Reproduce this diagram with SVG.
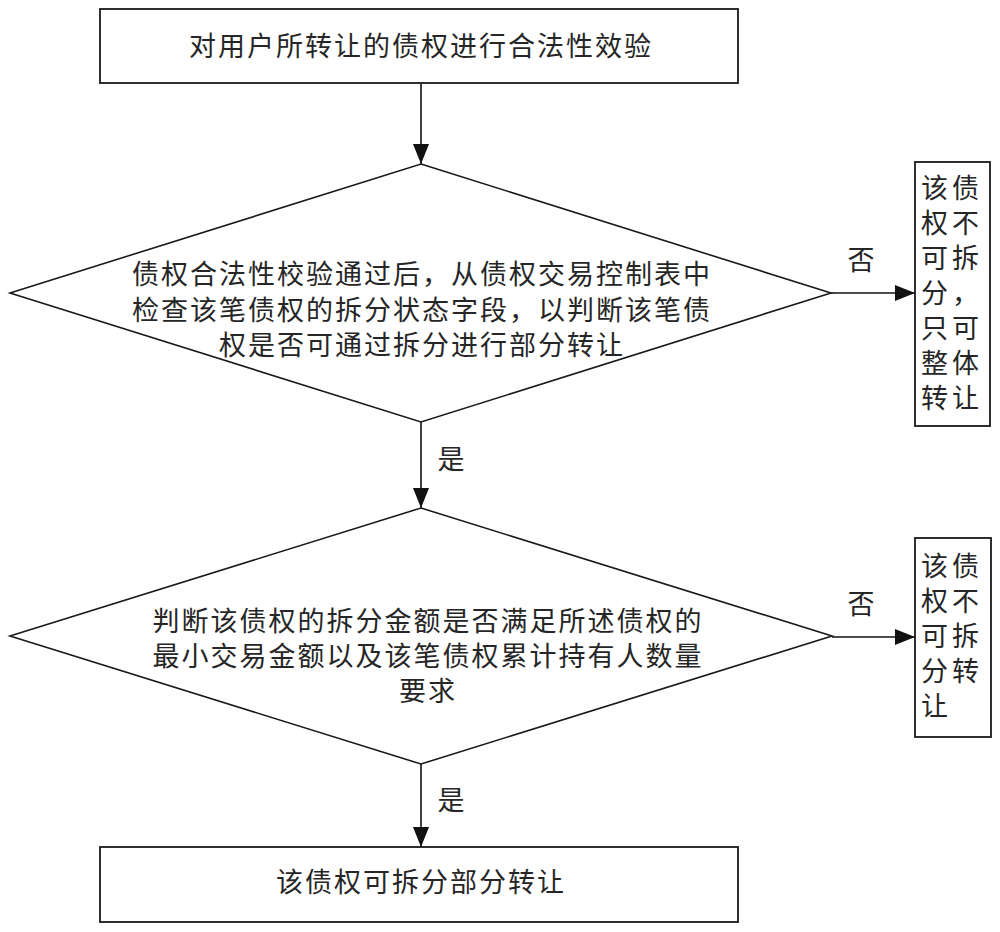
<svg xmlns="http://www.w3.org/2000/svg" width="1000" height="932" viewBox="0 0 1000 932">
<style>
.box{fill:#fff;stroke:#1a1a1a;stroke-width:1.8}
.dia{fill:#fff;stroke:#1a1a1a;stroke-width:1.6}
.t{font-family:"Liberation Sans","Noto Sans CJK SC",sans-serif;font-size:27px;fill:#262626;letter-spacing:2px;text-anchor:middle;dominant-baseline:central}
.v{font-family:"Liberation Sans","Noto Sans CJK SC",sans-serif;font-size:27px;fill:#262626;letter-spacing:4px;dominant-baseline:central}
.c{fill:none;stroke:#111;stroke-width:1.6}
</style>
<defs>
<marker id="arr" markerUnits="userSpaceOnUse" markerWidth="20" markerHeight="16" refX="20" refY="8" orient="auto">
<path d="M0,0 L20,8 L0,16 z" fill="#111"/>
</marker>
</defs>
<rect width="1000" height="932" fill="#fff"/>
<g id="connectors">
<line class="c" x1="421" y1="83" x2="421" y2="164" marker-end="url(#arr)"/>
<line class="c" x1="421" y1="422" x2="421" y2="508" marker-end="url(#arr)"/>
<line class="c" x1="421" y1="764" x2="421" y2="847" marker-end="url(#arr)"/>
<line class="c" x1="831" y1="293" x2="915" y2="293" marker-end="url(#arr)"/>
<line class="c" x1="832" y1="637" x2="915" y2="637" marker-end="url(#arr)"/>
<text class="t" x="862" y="261">否</text>
<text class="t" x="862" y="605">否</text>
<text class="t" x="452" y="460">是</text>
<text class="t" x="452" y="801">是</text>
</g>
<g id="n1">
<rect class="box" x="100" y="9" width="638" height="74"/>
<text class="t" x="421" y="47">对用户所转让的债权进行合法性效验</text>
</g>
<g id="n2">
<polygon class="dia" points="421,164 831,293 421,422 10,293"/>
<text class="t" x="422" y="275">债权合法性校验通过后，从债权交易控制表中</text>
<text class="t" x="422" y="311">检查该笔债权的拆分状态字段，以判断该笔债</text>
<text class="t" x="422" y="346">权是否可通过拆分进行部分转让</text>
</g>
<g id="n3">
<rect class="box" x="915" y="162" width="75" height="264"/>
<text class="v" x="921" y="189">该债</text>
<text class="v" x="921" y="224">权不</text>
<text class="v" x="921" y="259">可拆</text>
<text class="v" x="921" y="294">分，</text>
<text class="v" x="921" y="329">只可</text>
<text class="v" x="921" y="364">整体</text>
<text class="v" x="921" y="399">转让</text>
</g>
<g id="n4">
<polygon class="dia" points="421,508 832,636 421,764 10,636"/>
<text class="t" x="428" y="622">判断该债权的拆分金额是否满足所述债权的</text>
<text class="t" x="428" y="657">最小交易金额以及该笔债权累计持有人数量</text>
<text class="t" x="428" y="692">要求</text>
</g>
<g id="n5">
<rect class="box" x="915" y="538" width="76" height="199"/>
<text class="v" x="921" y="567">该债</text>
<text class="v" x="921" y="602">权不</text>
<text class="v" x="921" y="637">可拆</text>
<text class="v" x="921" y="672">分转</text>
<text class="v" x="921" y="707">让</text>
</g>
<g id="n6">
<rect class="box" x="100" y="847" width="638" height="75"/>
<text class="t" x="421" y="883">该债权可拆分部分转让</text>
</g>
</svg>
